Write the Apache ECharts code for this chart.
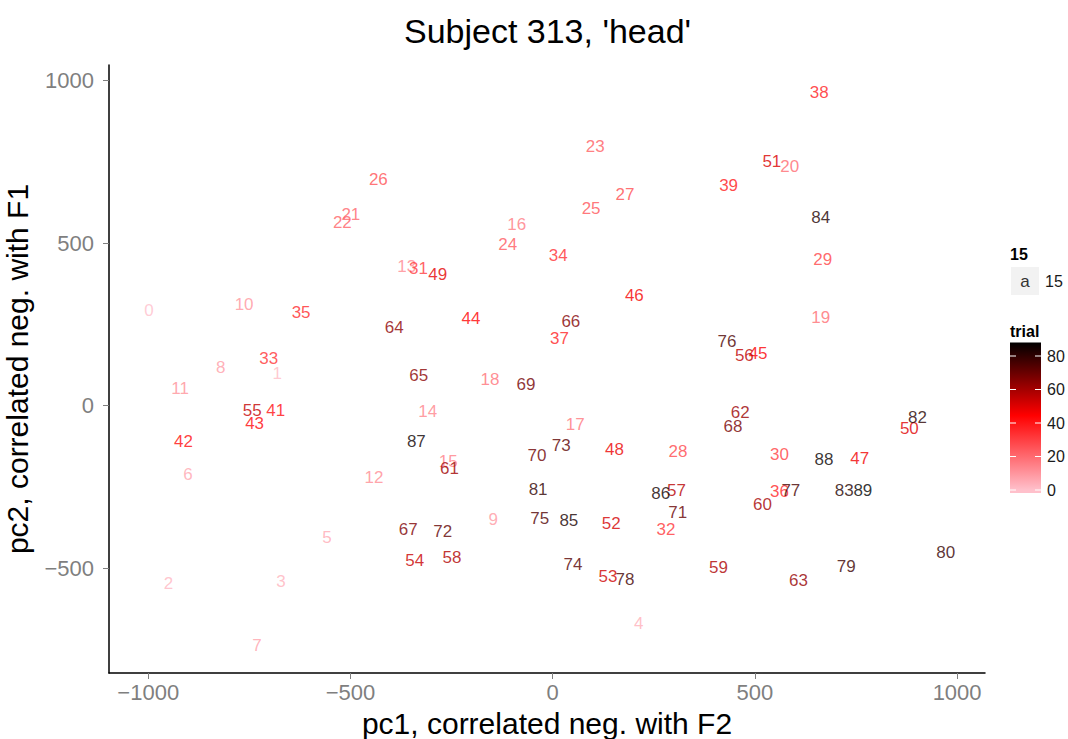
<!DOCTYPE html>
<html><head><meta charset="utf-8">
<script src="https://cdn.jsdelivr.net/npm/echarts@6/dist/echarts.min.js"></script>
<style>html,body{margin:0;padding:0;background:#fff}#c{width:1068px;height:739px}</style>
</head><body><div id="c"></div>
<script>
// ---- data ----
const trials = [0,1,2,3,4,5,6,7,8,9,10,11,12,13,14,15,16,17,18,19,20,21,22,23,24,25,26,27,28,29,30,31,32,33,34,35,36,37,38,39,41,42,43,44,45,46,47,48,49,50,51,52,53,54,55,56,57,58,59,60,61,62,63,64,65,66,67,68,69,70,71,72,73,74,75,76,77,78,79,80,81,82,83,84,85,86,87,88,89];
const pc1 = [-998,-681,-950,-672,213,-558,-902,-731,-821,-147,-763,-921,-442,-361,-309,-258,-89,56,-155,663,586,-499,-520,105,-111,95,-431,179,310,668,561,-332,280,-702,14,-622,561,17,659,435,-685,-913,-737,-202,508,202,759,153,-284,882,542,145,137,-341,-743,474,306,-249,410,519,-255,464,608,-392,-331,45,-357,446,-66,-39,309,-272,21,50,-32,431,589,179,726,972,-36,902,721,663,40,267,-337,671,767];
const pc2 = [293,98,-549,-541,-672,-405,-211,-739,117,-352,312,51,-221,427,-19,-171,556,-59,79,272,736,589,563,796,497,605,695,649,-140,451,-152,423,-381,146,461,285,-264,205,962,678,-15,-112,-56,268,161,338,-162,-134,403,-70,750,-362,-527,-478,-15,153,-262,-467,-499,-303,-195,-20,-537,241,92,260,-381,-63,66,-155,-330,-389,-123,-489,-347,196,-262,-534,-494,-452,-258,-37,-260,579,-355,-272,-112,-165,-260];
const xTicks = [-1000,-500,0,500,1000];
const yTicks = [-500,0,500,1000];
const trialBreaks = [0,20,40,60,80];
const trialRange = [0,89];
const trialColors = ['#FFC0CB','#FF0000','#000000'];

const FONT = '"Liberation Sans", Arial, Helvetica, sans-serif';
const data = trials.map((t,i)=>[pc1[i], pc2[i], t]);
const fmt = v => String(v).replace('-', '\u2212');

// colour bar geometry (legend decoration)
const bar = {x:1010, top:342.5, bottom:493, w:31};
const valToY = v => 490 - v*1.675;
const offOf = v => Math.max(0, Math.min(1, (bar.bottom - valToY(v)) / (bar.bottom - bar.top)));
const colorStops = trialColors.map((c,i)=>{
  const v = trialRange[0] + (trialRange[1]-trialRange[0]) * i/(trialColors.length-1);
  return {offset: offOf(v), color: c};
});
const graphics = [
  {type:'text', x:547.5, y:31, style:{text:"Subject 313, 'head'", font:'34px '+FONT, fill:'#000', align:'center', verticalAlign:'middle'}},
  {type:'text', x:1010, y:254, style:{text:'15', font:'bold 16px '+FONT, fill:'#000', align:'left', verticalAlign:'middle'}},
  {type:'rect', shape:{x:1011, y:267, width:28, height:28}, style:{fill:'#F2F2F2'}},
  {type:'text', x:1025, y:281, style:{text:'a', font:'17px '+FONT, fill:'#333', align:'center', verticalAlign:'middle'}},
  {type:'text', x:1045, y:281, style:{text:'15', font:'16px '+FONT, fill:'#1a1a1a', align:'left', verticalAlign:'middle'}},
  {type:'text', x:1010, y:331, style:{text:'trial', font:'bold 16px '+FONT, fill:'#000', align:'left', verticalAlign:'middle'}},
  {type:'rect', shape:{x:bar.x, y:bar.top, width:bar.w, height:bar.bottom-bar.top},
   style:{fill:{type:'linear', x:0, y:1, x2:0, y2:0, colorStops: colorStops}}}
];
trialBreaks.forEach(b=>{
  const y = valToY(b);
  graphics.push({type:'line', shape:{x1:bar.x, y1:y, x2:bar.x+6, y2:y}, style:{stroke:'#fff', lineWidth:1}});
  graphics.push({type:'line', shape:{x1:bar.x+bar.w-6, y1:y, x2:bar.x+bar.w, y2:y}, style:{stroke:'#fff', lineWidth:1}});
  graphics.push({type:'text', x:1047, y:y, style:{text:String(b), font:'16px '+FONT, fill:'#1a1a1a', align:'left', verticalAlign:'middle'}});
});

const chart = echarts.init(document.getElementById('c'), null, {renderer:'svg'});
chart.setOption({
  animation:false,
  backgroundColor:'#fff',
  textStyle:{fontFamily:FONT},
  grid:{left:109, right:83, top:65, bottom:66, containLabel:false, outerBoundsMode:'none'},
  xAxis:{
    type:'value', min:-1097, max:1069,
    splitLine:{show:false},
    axisLine:{show:true, onZero:false, lineStyle:{color:'#000', width:1.5}},
    axisTick:{show:true, length:6, customValues:xTicks, lineStyle:{color:'#7f7f7f', width:1}},
    axisLabel:{customValues:xTicks, formatter:fmt, color:'#7f7f7f', fontSize:22, margin:8, fontFamily:FONT},
    name:'pc1, correlated neg. with F2', nameLocation:'middle', nameGap:26,
    nameTextStyle:{fontSize:30, lineHeight:32, color:'#000', fontFamily:FONT}
  },
  yAxis:{
    type:'value', min:-823, max:1048,
    splitLine:{show:false},
    axisLine:{show:true, onZero:false, lineStyle:{color:'#000', width:1.5}},
    axisTick:{show:true, length:6, customValues:yTicks, lineStyle:{color:'#7f7f7f', width:1}},
    axisLabel:{customValues:yTicks, formatter:fmt, color:'#7f7f7f', fontSize:22, margin:15, fontFamily:FONT},
    name:'pc2, correlated neg. with F1', nameLocation:'middle', nameGap:60,
    nameTextStyle:{fontSize:30, lineHeight:32, color:'#000', fontFamily:FONT}
  },
  visualMap:{show:false, type:'continuous', dimension:2, min:trialRange[0], max:trialRange[1], seriesIndex:0, inRange:{color:trialColors}},
  series:[{
    type:'scatter', data:data, symbolSize:0,
    label:{show:true, position:'inside', formatter:p=>String(p.value[2]), fontSize:17, fontFamily:FONT, color:'inherit'},
    emphasis:{disabled:true}, silent:true
  }],
  graphic:graphics
});
</script></body></html>
